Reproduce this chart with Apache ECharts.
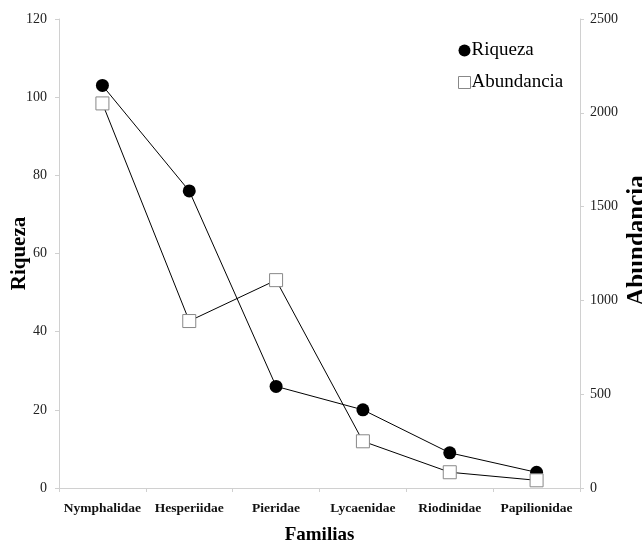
<!DOCTYPE html>
<html><head><meta charset="utf-8">
<script src="https://cdn.jsdelivr.net/npm/echarts@6/dist/echarts.min.js"></script>
<style>html,body{margin:0;padding:0;background:#fff}#c{width:642px;height:542px}</style>
</head><body><div id="c"></div>
<script>
const categories = ['Nymphalidae','Hesperiidae','Pieridae','Lycaenidae','Riodinidae','Papilionidae'];
const riqueza = [103, 76, 26, 20, 9, 4];
const abundancia = [2050, 890, 1108, 249, 84, 41];
const leftTicks = {min: 0, max: 120, interval: 20};
const rightTicks = {min: 0, max: 2500, interval: 500};

const font = 'Liberation Serif';
const axisLineGray = '#d0d0d0';
const chart = echarts.init(document.getElementById('c'), null, {renderer: 'canvas'});
chart.setOption({
  animation: false,
  backgroundColor: '#fff',
  grid: {left: 59, right: 62, top: 19, bottom: 54, containLabel: false, outerBoundsMode: 'none'},
  legend: {
    orient: 'vertical', left: 453, top: 36, itemGap: 13, itemWidth: 12, itemHeight: 12,
    textStyle: {fontFamily: font, fontSize: 19, color: '#000', padding: [0,0,0,-4]},
    data: [
      {name: 'Riqueza', icon: 'circle', itemStyle: {color: '#000', borderWidth: 0}},
      {name: 'Abundancia', icon: 'rect', itemStyle: {color: '#fff', borderColor: '#888', borderWidth: 1}}
    ]
  },
  xAxis: {
    type: 'category', data: categories, boundaryGap: true,
    name: 'Familias', nameLocation: 'middle', nameGap: 38, nameMoveOverlap: false,
    nameTextStyle: {fontFamily: font, fontSize: 19, fontWeight: 'bold', color: '#000'},
    axisLine: {lineStyle: {color: axisLineGray, width: 1}},
    axisTick: {show: true, alignWithLabel: false, length: 4, lineStyle: {color: axisLineGray}},
    axisLabel: {fontFamily: font, fontSize: 13.5, fontWeight: 'bold', color: '#111', margin: 14, interval: 0},
    splitLine: {show: false}
  },
  yAxis: [
    {
      type: 'value', position: 'left', min: leftTicks.min, max: leftTicks.max, interval: leftTicks.interval,
      name: 'Riqueza', nameLocation: 'middle', nameGap: 29, nameRotate: 90, nameMoveOverlap: false,
      nameTextStyle: {fontFamily: font, fontSize: 21, fontWeight: 'bold', color: '#000'},
      axisLine: {show: true, lineStyle: {color: axisLineGray, width: 1}},
      axisTick: {show: true, length: 4, lineStyle: {color: axisLineGray}},
      axisLabel: {fontFamily: font, fontSize: 14, color: '#222', margin: 12},
      splitLine: {show: false}
    },
    {
      type: 'value', position: 'right', min: rightTicks.min, max: rightTicks.max, interval: rightTicks.interval,
      name: 'Abundancia', nameLocation: 'middle', nameGap: 45, nameRotate: 90, nameMoveOverlap: false,
      nameTextStyle: {fontFamily: font, fontSize: 25, fontWeight: 'bold', color: '#000', padding: [0, 0, 0, 26]},
      axisLine: {show: true, lineStyle: {color: axisLineGray, width: 1}},
      axisTick: {show: true, length: 4, lineStyle: {color: axisLineGray}},
      axisLabel: {fontFamily: font, fontSize: 14, color: '#222', margin: 10, formatter: v => String(v)},
      splitLine: {show: false}
    }
  ],
  series: [
    {
      name: 'Riqueza', type: 'line', yAxisIndex: 0, data: riqueza,
      symbol: 'circle', symbolSize: 13,
      itemStyle: {color: '#000', borderWidth: 0},
      lineStyle: {color: '#000', width: 1}, z: 2
    },
    {
      name: 'Abundancia', type: 'line', yAxisIndex: 1, data: abundancia,
      symbol: 'rect', symbolSize: 13,
      itemStyle: {color: '#fff', borderColor: '#888', borderWidth: 1},
      lineStyle: {color: '#000', width: 1}, z: 3
    }
  ]
});
</script></body></html>
